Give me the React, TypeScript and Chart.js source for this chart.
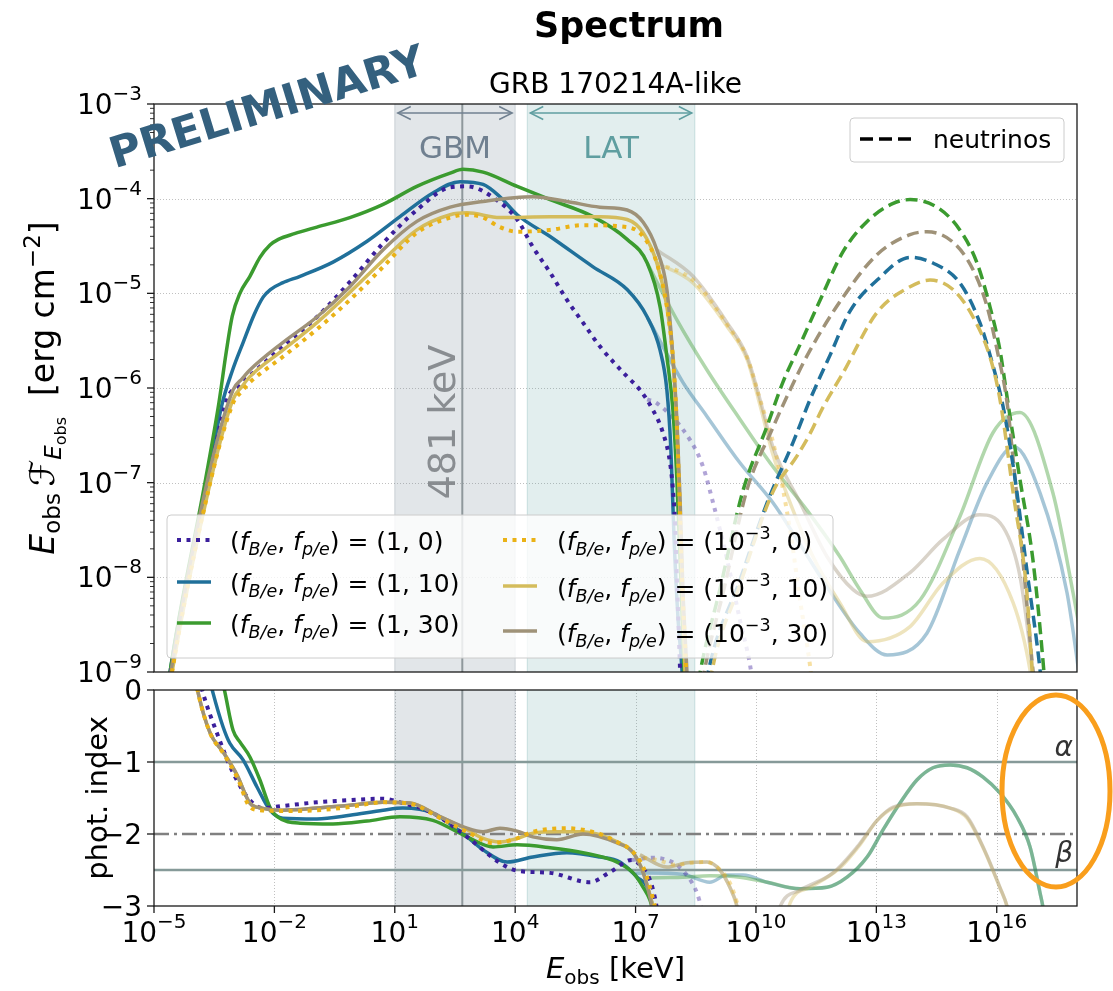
import React, { useEffect, useRef } from "react";
import { Chart, registerables } from "chart.js";
Chart.register(...registerables);

const FONT = "'DejaVu Sans', 'Noto Sans', sans-serif";

// ---------- axes / annotations ----------
const X_MIN = 1e-5;
const X_MAX = 1e18;
const X_TICK_EXPS = [-5, -2, 1, 4, 7, 10, 13, 16];
const Y_TOP_EXPS = [-9, -8, -7, -6, -5, -4, -3];
const Y_BOT_TICKS = [0, -1, -2, -3];
const GBM_BAND = [10, 1e4];
const LAT_BAND = [2e4, 3e8];
const PEAK_KEV = 481;
const INDEX_ALPHA = -1;
const INDEX_BETA = -2.5;
const INDEX_SYNC = -2;

// legend: (f_B/e exponent, f_p/e)
const LEGEND_FB_EXP = [0, 0, 0, -3, -3, -3];
const LEGEND_FP = [0, 10, 30, 0, 10, 30];
const COLORS = ["#3b1f9c", "#20709a", "#3b9b2f", "#eab216", "#d4bc5c", "#9f9278"];
const STYLES = ["dot", "solid", "solid", "dot", "solid", "solid"];

// ---------- spectra: [log10 E/keV, log10 E F_E] ----------
const SPEC_1_0 = [[-4.75,-9.5],[-4.58,-9.0],[-3.78,-7.25],[-3.65,-7.0],[-3.18,-6.12],[-2.9,-5.98],[-2.61,-5.87],[-1.79,-5.56],[-0.94,-5.25],[-0.12,-4.88],[0.71,-4.47],[1.55,-4.12],[2.38,-3.88],[2.8,-3.87],[3.62,-4.04],[4.05,-4.22],[4.44,-4.51],[4.87,-4.78],[5.29,-5.07],[5.69,-5.31],[6.11,-5.56],[6.79,-5.88],[7.11,-6.02],[7.43,-6.23],[7.68,-6.47],[7.86,-6.79],[7.93,-7.07],[7.98,-7.39],[8.03,-8.03],[8.11,-9.0],[8.13,-9.3]];
const SPEC_1_10 = [[-4.75,-9.5],[-4.6,-9.0],[-3.68,-7.0],[-3.31,-6.18],[-3.05,-5.82],[-2.78,-5.52],[-2.5,-5.22],[-2.28,-5.04],[-2.1,-4.96],[-1.8,-4.89],[-1.36,-4.82],[-0.54,-4.67],[0.31,-4.45],[1.13,-4.19],[1.95,-3.94],[2.63,-3.82],[3.2,-3.85],[3.62,-3.98],[4.05,-4.17],[4.87,-4.4],[5.94,-4.72],[6.79,-4.96],[7.29,-5.25],[7.61,-5.6],[7.78,-6.02],[7.88,-6.65],[7.96,-7.6],[8.06,-8.45],[8.16,-9.0],[8.21,-9.5]];
const SPEC_1_30 = [[-4.75,-9.5],[-4.6,-9.0],[-3.73,-7.0],[-3.38,-6.15],[-3.2,-5.62],[-3.05,-5.24],[-2.86,-5.0],[-2.61,-4.82],[-2.36,-4.62],[-2.11,-4.49],[-1.9,-4.43],[-1.5,-4.37],[-0.94,-4.3],[-0.12,-4.2],[0.71,-4.06],[1.55,-3.87],[2.38,-3.73],[2.7,-3.69],[3.2,-3.72],[4.05,-3.87],[4.87,-4.01],[5.94,-4.19],[6.79,-4.43],[7.29,-4.68],[7.61,-5.14],[7.78,-5.67],[7.93,-6.23],[8.03,-6.97],[8.13,-8.03],[8.21,-9.0],[8.26,-9.5]];
const SPEC_M3_0 = [[-4.72,-9.5],[-4.55,-9.0],[-3.6,-7.0],[-3.03,-6.16],[-2.8,-6.03],[-2.61,-5.94],[-1.79,-5.67],[-0.94,-5.38],[-0.12,-5.07],[0.71,-4.72],[1.55,-4.36],[2.38,-4.2],[2.8,-4.17],[3.2,-4.2],[3.62,-4.3],[4.05,-4.35],[4.87,-4.33],[5.69,-4.28],[6.79,-4.3],[7.19,-4.4],[7.53,-4.68],[7.78,-5.14],[7.93,-5.67],[8.01,-6.23],[8.08,-6.97],[8.16,-8.03],[8.26,-9.0],[8.28,-9.3]];
const SPEC_M3_10 = [[-4.72,-9.5],[-4.55,-9.0],[-3.6,-7.0],[-3.03,-6.12],[-2.8,-5.98],[-2.61,-5.88],[-1.79,-5.6],[-0.94,-5.31],[-0.12,-4.99],[0.71,-4.65],[1.55,-4.33],[2.38,-4.17],[2.8,-4.15],[3.62,-4.2],[4.87,-4.19],[6.11,-4.19],[6.79,-4.22],[7.19,-4.36],[7.53,-4.68],[7.78,-5.14],[7.93,-5.67],[8.01,-6.23],[8.08,-6.97],[8.16,-8.03],[8.23,-9.0],[8.26,-9.3]];
const SPEC_M3_30 = [[-4.75,-9.5],[-4.58,-9.0],[-3.68,-7.0],[-3.03,-6.02],[-2.8,-5.9],[-2.61,-5.81],[-1.79,-5.52],[-0.94,-5.25],[-0.12,-4.93],[0.71,-4.54],[1.55,-4.24],[2.38,-4.09],[3.2,-4.03],[4.44,-3.98],[5.29,-4.03],[6.11,-4.09],[6.79,-4.12],[7.19,-4.25],[7.53,-4.54],[7.78,-4.96],[7.93,-5.67],[8.03,-6.34],[8.11,-7.18],[8.18,-8.13],[8.28,-9.0],[8.31,-9.3]];

// high-energy (faded) parts of the spectra
const HE_1_0 = [[7.29,-6.12],[7.53,-6.16],[8.36,-6.55],[8.68,-6.83],[8.93,-7.21],[9.28,-7.81],[9.6,-8.45],[9.85,-8.92],[9.98,-9.3]];
const HE_1_10 = [[7.29,-5.25],[7.73,-5.6],[8.18,-5.94],[8.78,-6.3],[9.6,-6.79],[10.42,-7.21],[10.92,-7.53],[11.77,-8.1],[12.59,-8.59],[13.27,-8.82],[14.26,-8.59],[15.08,-7.71],[15.76,-7.0],[16.43,-6.62],[17.08,-7.11],[17.75,-8.16],[17.98,-8.8],[18.2,-9.5]];
const HE_1_30 = [[7.29,-4.68],[8.03,-5.28],[8.78,-5.81],[9.6,-6.33],[10.42,-6.83],[11.27,-7.29],[12.09,-7.78],[12.59,-8.13],[13.17,-8.43],[14.09,-8.24],[15.08,-7.36],[15.91,-6.47],[16.58,-6.26],[17.4,-7.11],[17.9,-8.16],[18.2,-8.87]];
const HE_M3_0 = [[7.53,-4.68],[8.43,-4.86],[9.28,-5.33],[9.78,-5.68],[10.1,-6.12],[10.47,-6.65],[10.85,-7.5],[11.1,-8.24],[11.35,-8.94],[11.45,-9.3]];
const HE_M3_10 = [[7.53,-4.68],[8.43,-4.89],[9.28,-5.35],[9.78,-5.7],[10.1,-6.18],[10.42,-6.7],[10.85,-7.21],[11.42,-7.78],[12.09,-8.27],[12.77,-8.68],[13.84,-8.52],[14.66,-8.06],[15.58,-7.8],[16.41,-8.27],[16.83,-8.98],[16.93,-9.3]];
const HE_M3_30 = [[7.53,-4.54],[8.43,-4.82],[9.28,-5.31],[9.78,-5.67],[10.1,-6.12],[10.42,-6.62],[11.1,-7.21],[11.77,-7.78],[12.42,-8.13],[12.77,-8.2],[13.84,-7.95],[14.66,-7.6],[15.58,-7.34],[16.16,-7.47],[16.58,-7.99],[16.9,-8.98],[17.0,-9.3]];

// neutrino spectra
const NU_1_10 = [[8.7,-9.3],[8.81,-9.0],[9.6,-8.03],[10.28,-7.21],[10.92,-6.58],[11.35,-6.12],[11.85,-5.65],[12.34,-5.19],[13.02,-4.86],[13.84,-4.62],[14.41,-4.68],[15.08,-4.89],[15.58,-5.31],[15.91,-5.77],[16.16,-6.2],[16.46,-6.97],[16.75,-7.92],[17.08,-8.98],[17.15,-9.3]];
const NU_1_30 = [[8.5,-9.3],[8.61,-9.0],[9.1,-8.13],[9.68,-7.08],[10.28,-6.4],[10.67,-5.94],[11.1,-5.54],[11.6,-5.07],[12.17,-4.56],[12.77,-4.24],[13.42,-4.05],[13.84,-4.01],[14.51,-4.09],[15.08,-4.33],[15.51,-4.68],[15.83,-5.14],[16.08,-5.6],[16.28,-6.16],[16.58,-6.97],[16.9,-7.81],[17.15,-8.87],[17.23,-9.3]];
const NU_M3_10 = [[8.8,-9.3],[8.9,-9.0],[9.6,-8.08],[10.42,-7.1],[11.02,-6.72],[11.35,-6.48],[11.65,-6.22],[12.17,-5.84],[13.02,-5.2],[13.84,-4.93],[14.34,-4.86],[14.91,-4.96],[15.41,-5.25],[15.83,-5.67],[16.08,-6.12],[16.41,-7.11],[16.75,-8.16],[16.88,-8.98],[16.93,-9.3]];
const NU_M3_30 = [[8.6,-9.3],[8.71,-9.0],[9.2,-8.13],[9.78,-7.07],[10.4,-6.44],[10.85,-6.02],[11.35,-5.6],[12.17,-5.04],[13.02,-4.59],[13.84,-4.38],[14.26,-4.35],[14.91,-4.46],[15.41,-4.75],[15.76,-5.14],[16.01,-5.6],[16.26,-6.16],[16.41,-6.76],[16.65,-7.81],[16.9,-8.98],[16.98,-9.3]];

// ---------- photon index: [log10 E/keV, index] ----------
const IDX_1_0 = [[-3.98,0.42],[-3.78,-0.04],[-3.43,-0.6],[-3.03,-1.15],[-2.61,-1.53],[-2.28,-1.64],[-1.79,-1.61],[-0.94,-1.56],[-0.12,-1.53],[0.71,-1.51],[1.2,-1.57],[1.95,-1.71],[2.8,-2.04],[3.62,-2.4],[4.05,-2.51],[4.87,-2.54],[5.86,-2.67],[6.36,-2.53],[6.91,-2.36],[7.16,-2.46],[7.36,-2.64],[7.48,-2.88],[7.56,-3.13]];
const IDX_1_10 = [[-3.73,0.42],[-3.53,-0.04],[-3.28,-0.51],[-3.11,-0.74],[-2.78,-0.97],[-2.43,-1.35],[-2.11,-1.67],[-1.79,-1.78],[-0.94,-1.79],[-0.12,-1.74],[0.71,-1.67],[1.2,-1.64],[1.95,-1.71],[2.8,-2.04],[3.2,-2.22],[3.8,-2.39],[4.44,-2.32],[5.29,-2.26],[6.11,-2.32],[6.61,-2.39],[7.04,-2.6],[7.29,-2.74],[7.43,-3.01],[7.48,-3.13]];
const IDX_1_30 = [[-3.41,0.42],[-3.23,-0.04],[-3.03,-0.56],[-2.86,-0.72],[-2.61,-0.93],[-2.36,-1.25],[-2.11,-1.63],[-1.93,-1.76],[-1.36,-1.85],[-0.54,-1.86],[0.31,-1.82],[1.13,-1.76],[1.95,-1.81],[2.8,-2.04],[3.45,-2.18],[4.05,-2.15],[4.87,-2.19],[5.69,-2.26],[6.54,-2.39],[6.94,-2.54],[7.19,-2.74],[7.36,-2.92],[7.43,-3.06]];
const IDX_M3_0 = [[-4.05,0.42],[-3.9,-0.04],[-3.6,-0.6],[-3.28,-0.875],[-2.93,-1.21],[-2.61,-1.625],[-2.36,-1.67],[-1.79,-1.68],[-0.94,-1.67],[-0.12,-1.625],[0.71,-1.56],[1.38,-1.58],[2.13,-1.78],[2.8,-1.97],[3.45,-2.125],[4.05,-2.06],[4.44,-1.97],[5.29,-1.92],[6.11,-2.0],[6.54,-2.11],[6.94,-2.25],[7.19,-2.46],[7.36,-2.74],[7.43,-2.89],[7.51,-3.06]];
const IDX_M3_10 = [[-4.05,0.42],[-3.9,-0.04],[-3.6,-0.6],[-3.28,-0.86],[-2.93,-1.18],[-2.61,-1.57],[-2.31,-1.64],[-1.79,-1.67],[-0.94,-1.64],[-0.12,-1.6],[0.71,-1.56],[1.38,-1.57],[2.13,-1.76],[2.8,-1.94],[3.2,-2.06],[3.62,-2.11],[4.05,-2.06],[4.44,-1.99],[5.04,-1.97],[5.69,-1.97],[6.54,-2.11],[6.94,-2.26],[7.19,-2.53],[7.36,-2.85],[7.46,-3.06]];
const IDX_M3_30 = [[-4.05,0.42],[-3.9,-0.04],[-3.6,-0.6],[-3.28,-0.86],[-2.93,-1.18],[-2.61,-1.57],[-2.31,-1.64],[-1.79,-1.67],[-0.94,-1.64],[-0.12,-1.6],[0.71,-1.56],[1.38,-1.57],[2.13,-1.76],[2.8,-1.92],[3.2,-1.97],[3.62,-1.92],[4.05,-1.96],[4.44,-2.04],[5.04,-2.08],[5.69,-2.0],[6.54,-2.125],[6.94,-2.26],[7.19,-2.54],[7.36,-2.875],[7.43,-3.06]];

const IDX_HE_1_0 = [[6.91,-2.36],[7.43,-2.33],[7.78,-2.36],[8.03,-2.43],[8.23,-2.54],[8.41,-2.68],[8.53,-2.82],[8.66,-3.06],[8.72,-3.2]];
const IDX_HE_1_10 = [[6.95,-2.55],[7.29,-2.54],[8.18,-2.56],[8.85,-2.67],[9.28,-2.57],[9.68,-2.57],[10.28,-2.67],[11.1,-2.76],[11.77,-2.74],[12.27,-2.6],[12.77,-2.32],[13.17,-1.94],[13.59,-1.57],[14.01,-1.25],[14.41,-1.08],[14.84,-1.04],[15.26,-1.08],[15.66,-1.21],[16.08,-1.43],[16.5,-1.76],[16.83,-2.18],[17.08,-2.82],[17.15,-3.01],[17.2,-3.2]];
const IDX_HE_1_30 = [[7.19,-2.62],[7.36,-2.61],[8.18,-2.6],[8.85,-2.58],[9.6,-2.6],[10.28,-2.67],[11.1,-2.76],[11.77,-2.74],[12.27,-2.6],[12.77,-2.32],[13.17,-1.94],[13.59,-1.57],[14.01,-1.25],[14.41,-1.08],[14.84,-1.04],[15.26,-1.08],[15.66,-1.21],[16.08,-1.43],[16.5,-1.76],[16.83,-2.18],[17.08,-2.82],[17.15,-3.01],[17.2,-3.2]];
const IDX_HE_M3_0 = [[7.19,-2.33],[7.53,-2.36],[8.03,-2.43],[8.36,-2.4],[8.78,-2.39],[9.03,-2.46],[9.35,-2.68],[9.53,-2.96],[9.58,-3.08]];
const IDX_HE_M3_10 = [[7.11,-2.29],[7.78,-2.46],[8.28,-2.4],[8.78,-2.39],[9.1,-2.5],[9.35,-2.74],[9.53,-3.01],[9.85,-3.75],[10.55,-3.75],[10.85,-2.96],[11.35,-2.74],[12.09,-2.47],[12.59,-2.15],[13.02,-1.81],[13.42,-1.64],[14.01,-1.58],[14.84,-1.64],[15.26,-1.78],[15.66,-2.19],[16.08,-2.75],[16.26,-3.01],[16.33,-3.2]];
const IDX_HE_M3_30 = [[7.11,-2.29],[7.78,-2.46],[8.28,-2.4],[8.78,-2.39],[9.1,-2.5],[9.35,-2.74],[9.53,-3.01],[9.73,-3.75],[10.3,-3.75],[10.6,-3.01],[11.1,-2.78],[11.92,-2.54],[12.52,-2.18],[13.02,-1.81],[13.42,-1.625],[14.01,-1.58],[14.84,-1.64],[15.26,-1.76],[15.66,-2.18],[16.08,-2.74],[16.26,-3.01],[16.33,-3.2]];

// ---------- helpers ----------
const DOT = [4, 5.5];
const DASH = [12, 6];

function hexA(hex: string, a: number) {
  const n = parseInt(hex.slice(1), 16);
  return `rgba(${(n >> 16) & 255},${(n >> 8) & 255},${n & 255},${a})`;
}

function mk(points: number[][], logY: boolean, color: string, style: string, alpha = 1) {
  return {
    data: points.map(([lx, v]) => ({ x: Math.pow(10, lx), y: logY ? Math.pow(10, v) : v })),
    borderColor: alpha < 1 ? hexA(color, alpha) : color,
    backgroundColor: "transparent",
    borderWidth: style === "dot" ? 4 : 3.5,
    borderDash: style === "dot" ? DOT : style === "dash" ? DASH : [],
    borderCapStyle: "butt",
    pointRadius: 0,
    pointHoverRadius: 0,
    fill: false,
    cubicInterpolationMode: "monotone",
    clip: 0,
  };
}

type Seg = { t: string; size: number; italic?: boolean; bold?: boolean; dy?: number };
function segFont(s: Seg) {
  return `${s.italic ? "italic " : ""}${s.bold ? "bold " : ""}${s.size}px ${FONT}`;
}
function richWidth(ctx: CanvasRenderingContext2D, segs: Seg[]) {
  let w = 0;
  for (const s of segs) {
    ctx.font = segFont(s);
    w += ctx.measureText(s.t).width;
  }
  return w;
}
function drawRich(ctx: CanvasRenderingContext2D, x: number, y: number, segs: Seg[], align: string, color: string) {
  const w = richWidth(ctx, segs);
  let cx = align === "left" ? x : align === "center" ? x - w / 2 : x - w;
  ctx.textAlign = "left";
  ctx.textBaseline = "alphabetic";
  ctx.fillStyle = color;
  for (const s of segs) {
    ctx.font = segFont(s);
    ctx.fillText(s.t, cx, y + (s.dy || 0));
    cx += ctx.measureText(s.t).width;
  }
}
function powSegs(exp: number, size: number, sup: number, dy: number): Seg[] {
  return [{ t: "10", size }, { t: exp < 0 ? "\u2212" + Math.abs(exp) : String(exp), size: sup, dy }];
}
function hline(ctx: CanvasRenderingContext2D, x0: number, x1: number, y: number) {
  ctx.beginPath(); ctx.moveTo(x0, y); ctx.lineTo(x1, y); ctx.stroke();
}
function vline(ctx: CanvasRenderingContext2D, x: number, y0: number, y1: number) {
  ctx.beginPath(); ctx.moveTo(x, y0); ctx.lineTo(x, y1); ctx.stroke();
}
function legendSegs(fbExp: number, fp: number): Seg[] {
  const S = 25, s = 17.5;
  const segs: Seg[] = [
    { t: "(", size: S }, { t: "f", size: S, italic: true }, { t: "B/e", size: s, italic: true, dy: 5 },
    { t: ", ", size: S }, { t: "f", size: S, italic: true }, { t: "p/e", size: s, italic: true, dy: 5 },
    { t: ") = (", size: S },
  ];
  if (fbExp === 0) segs.push({ t: "1", size: S });
  else { segs.push({ t: "10", size: S }); segs.push({ t: "\u2212" + Math.abs(fbExp), size: s, dy: -11 }); }
  segs.push({ t: ", " + fp + ")", size: S });
  return segs;
}
function drawBands(ctx: CanvasRenderingContext2D, x: any, a: any) {
  const bands = [
    { r: GBM_BAND, fill: "rgba(112,128,144,0.2)", edge: "rgba(112,128,144,0.28)" },
    { r: LAT_BAND, fill: "rgba(95,158,160,0.18)", edge: "rgba(95,158,160,0.28)" },
  ];
  for (const b of bands) {
    const x0 = x.getPixelForValue(b.r[0]);
    const x1 = x.getPixelForValue(b.r[1]);
    ctx.fillStyle = b.fill;
    ctx.fillRect(x0, a.top, x1 - x0, a.bottom - a.top);
    ctx.strokeStyle = b.edge; ctx.lineWidth = 1;
    vline(ctx, x0, a.top, a.bottom); vline(ctx, x1, a.top, a.bottom);
  }
  ctx.strokeStyle = "rgba(115,125,130,0.75)"; ctx.lineWidth = 2;
  vline(ctx, x.getPixelForValue(PEAK_KEV), a.top, a.bottom);
}
function arrow(ctx: CanvasRenderingContext2D, x0: number, x1: number, y: number, color: string) {
  ctx.strokeStyle = color; ctx.lineWidth = 1.5;
  hline(ctx, x0, x1, y);
  ctx.beginPath();
  ctx.moveTo(x0 + 13, y - 6.5); ctx.lineTo(x0, y); ctx.lineTo(x0 + 13, y + 6.5);
  ctx.moveTo(x1 - 13, y - 6.5); ctx.lineTo(x1, y); ctx.lineTo(x1 - 13, y + 6.5);
  ctx.stroke();
}
function roundBox(ctx: CanvasRenderingContext2D, x0: number, y0: number, x1: number, y1: number) {
  const r = 4;
  ctx.beginPath();
  ctx.moveTo(x0 + r, y0); ctx.lineTo(x1 - r, y0); ctx.quadraticCurveTo(x1, y0, x1, y0 + r);
  ctx.lineTo(x1, y1 - r); ctx.quadraticCurveTo(x1, y1, x1 - r, y1);
  ctx.lineTo(x0 + r, y1); ctx.quadraticCurveTo(x0, y1, x0, y1 - r);
  ctx.lineTo(x0, y0 + r); ctx.quadraticCurveTo(x0, y0, x0 + r, y0);
  ctx.closePath();
  ctx.fillStyle = "rgba(255,255,255,0.8)"; ctx.fill();
  ctx.strokeStyle = "#cccccc"; ctx.lineWidth = 1; ctx.stroke();
}

// ---------- top panel plugin ----------
const topPlugin = {
  id: "topDeco",
  beforeDatasetsDraw(chart: any) {
    const { ctx, chartArea: a, scales } = chart;
    const x = scales.x, y = scales.y;
    ctx.save();
    ctx.strokeStyle = "#b0b0b0"; ctx.lineWidth = 0.8; ctx.setLineDash([1, 2]);
    for (const e of Y_TOP_EXPS) {
      if (e === -9 || e === -3) continue;
      hline(ctx, a.left, a.right, Math.round(y.getPixelForValue(Math.pow(10, e))) + 0.5);
    }
    ctx.setLineDash([]);
    drawBands(ctx, x, a);
    ctx.restore();
  },
  afterDraw(chart: any) {
    const { ctx, chartArea: a, scales } = chart;
    const x = scales.x, y = scales.y;
    ctx.save();
    // band labels & arrows
    const g0 = x.getPixelForValue(GBM_BAND[0]), g1 = x.getPixelForValue(GBM_BAND[1]);
    const l0 = x.getPixelForValue(LAT_BAND[0]), l1 = x.getPixelForValue(LAT_BAND[1]);
    arrow(ctx, g0 + 3, g1 - 3, a.top + 9, "#708090");
    arrow(ctx, l0 + 3, l1 - 3, a.top + 9, "#5f9ea0");
    ctx.font = `31px ${FONT}`; ctx.textAlign = "center"; ctx.textBaseline = "alphabetic";
    ctx.fillStyle = "#708090"; ctx.fillText("GBM", (g0 + g1) / 2, a.top + 54);
    ctx.fillStyle = "#5f9ea0"; ctx.fillText("LAT", (l0 + l1) / 2, a.top + 54);
    // 481 keV label
    const px = x.getPixelForValue(PEAK_KEV);
    ctx.save();
    ctx.translate(px - 7, 422); ctx.rotate(-Math.PI / 2);
    ctx.font = `38px ${FONT}`; ctx.fillStyle = "rgba(128,132,136,0.9)"; ctx.textAlign = "center";
    ctx.fillText(`${PEAK_KEV} keV`, 0, 0);
    ctx.restore();
    // frame
    ctx.strokeStyle = "#1a1a1a"; ctx.lineWidth = 1.3;
    ctx.strokeRect(a.left, a.top, a.right - a.left, a.bottom - a.top);
    // y ticks
    for (let e = -9; e <= -3; e++) {
      for (let k = 1; k <= 9; k++) {
        if (e === -3 && k > 1) break;
        const py = y.getPixelForValue(k * Math.pow(10, e));
        ctx.lineWidth = k === 1 ? 1.3 : 0.9;
        hline(ctx, a.left - (k === 1 ? 7 : 4), a.left, py);
      }
    }
    for (const e of Y_TOP_EXPS) {
      drawRich(ctx, a.left - 12, y.getPixelForValue(Math.pow(10, e)) + 10, powSegs(e, 28, 20, -14), "right", "#000");
    }
    // y-axis title
    ctx.save();
    ctx.translate(54, (a.top + a.bottom) / 2); ctx.rotate(-Math.PI / 2);
    drawRich(ctx, 0, 0, [
      { t: "E", size: 33, italic: true }, { t: "obs", size: 23, dy: 6 }, { t: "\u2009", size: 33 },
      { t: "\u2131", size: 34, italic: true }, { t: "E", size: 23, italic: true, dy: 7 }, { t: "obs", size: 16, dy: 12 },
      { t: "  [erg cm", size: 33 }, { t: "\u22122", size: 23, dy: -14 }, { t: "]", size: 33 },
    ], "center", "#000");
    ctx.restore();
    // main legend
    roundBox(ctx, 167, 515, 833, 658);
    const sampleY = [540, 582, 623, 540, 586, 631];
    const baseY = [550, 592, 633, 550, 597, 642];
    for (let i = 0; i < 6; i++) {
      const col = i < 3 ? 0 : 1;
      const sx0 = col === 0 ? 177 : 503, sx1 = sx0 + 34, tx = col === 0 ? 230 : 557;
      ctx.strokeStyle = COLORS[i];
      ctx.lineWidth = STYLES[i] === "dot" ? 4 : 3.5;
      ctx.setLineDash(STYLES[i] === "dot" ? DOT : []);
      hline(ctx, sx0, sx1, sampleY[i]);
      ctx.setLineDash([]);
      drawRich(ctx, tx, baseY[i], legendSegs(LEGEND_FB_EXP[i], LEGEND_FP[i]), "left", "#000");
    }
    // neutrino legend
    roundBox(ctx, 850, 118, 1064, 162);
    ctx.strokeStyle = "#000"; ctx.lineWidth = 3.5; ctx.setLineDash([13, 6]);
    hline(ctx, 860, 912, 139);
    ctx.setLineDash([]);
    ctx.font = `25px ${FONT}`; ctx.fillStyle = "#000"; ctx.textAlign = "left";
    ctx.fillText("neutrinos", 933, 148);
    // titles
    ctx.textAlign = "center";
    ctx.font = `bold 35px ${FONT}`; ctx.fillText("Spectrum", 629, 37);
    ctx.font = `28px ${FONT}`; ctx.fillText("GRB 170214A-like", (a.left + a.right) / 2, 93);
    // watermark
    ctx.save();
    ctx.translate(268, 110); ctx.rotate(-17 * Math.PI / 180);
    ctx.font = `bold 43px ${FONT}`; ctx.fillStyle = "#34607e"; ctx.textBaseline = "middle";
    ctx.fillText("PRELIMINARY", 0, 0);
    ctx.restore();
    ctx.restore();
  },
};

// ---------- bottom panel plugin ----------
const botPlugin = {
  id: "botDeco",
  beforeDatasetsDraw(chart: any) {
    const { ctx, chartArea: a, scales } = chart;
    const x = scales.x, y = scales.y;
    ctx.save();
    ctx.strokeStyle = "#b0b0b0"; ctx.lineWidth = 0.8; ctx.setLineDash([1, 2]);
    for (const e of X_TICK_EXPS) {
      if (e === -5) continue;
      vline(ctx, Math.round(x.getPixelForValue(Math.pow(10, e))) + 0.5, a.top, a.bottom);
    }
    ctx.setLineDash([]);
    drawBands(ctx, x, a);
    ctx.strokeStyle = "#869a99"; ctx.lineWidth = 2.5;
    hline(ctx, a.left, a.right, y.getPixelForValue(INDEX_ALPHA));
    hline(ctx, a.left, a.right, y.getPixelForValue(INDEX_BETA));
    ctx.strokeStyle = "#808080"; ctx.setLineDash([15, 5, 3, 5]);
    hline(ctx, a.left, a.right, y.getPixelForValue(INDEX_SYNC));
    ctx.setLineDash([]);
    ctx.restore();
  },
  afterDraw(chart: any) {
    const { ctx, chartArea: a, scales } = chart;
    const x = scales.x, y = scales.y;
    ctx.save();
    ctx.strokeStyle = "#1a1a1a"; ctx.lineWidth = 1.3;
    ctx.strokeRect(a.left, a.top, a.right - a.left, a.bottom - a.top);
    for (const v of Y_BOT_TICKS) {
      const py = y.getPixelForValue(v);
      hline(ctx, a.left - 7, a.left, py);
      ctx.font = `28px ${FONT}`; ctx.fillStyle = "#000"; ctx.textAlign = "right"; ctx.textBaseline = "alphabetic";
      ctx.fillText(v < 0 ? "\u2212" + Math.abs(v) : String(v), a.left - 12, py + 10);
    }
    for (const e of X_TICK_EXPS) {
      const px = x.getPixelForValue(Math.pow(10, e));
      vline(ctx, px, a.bottom, a.bottom + 7);
      drawRich(ctx, px, a.bottom + 36, powSegs(e, 28, 20, -14), "center", "#000");
    }
    // alpha / beta labels
    ctx.font = `italic 28px ${FONT}`; ctx.fillStyle = "#333"; ctx.textAlign = "right";
    ctx.fillText("\u03b1", a.right - 4, y.getPixelForValue(INDEX_ALPHA) - 6);
    ctx.fillText("\u03b2", a.right - 4, y.getPixelForValue(INDEX_BETA) - 8);
    // orange ellipse
    ctx.strokeStyle = "#f99e1c"; ctx.lineWidth = 5;
    ctx.beginPath(); ctx.ellipse(a.right - 21, 791 - 676, 54, 96, 0, 0, Math.PI * 2); ctx.stroke();
    // axis titles
    drawRich(ctx, (a.left + a.right) / 2, a.bottom + 72, [
      { t: "E", size: 29, italic: true }, { t: "obs", size: 20, dy: 6 }, { t: " [keV]", size: 29 },
    ], "center", "#000");
    ctx.save();
    ctx.translate(107, (a.top + a.bottom) / 2); ctx.rotate(-Math.PI / 2);
    ctx.font = `29px ${FONT}`; ctx.fillStyle = "#000"; ctx.textAlign = "center";
    ctx.fillText("phot. index", 0, 0);
    ctx.restore();
    ctx.restore();
  },
};

function baseOptions(padding: any) {
  return {
    responsive: false,
    animation: false,
    events: [],
    layout: { padding },
    plugins: { legend: { display: false }, tooltip: { enabled: false }, title: { display: false } },
  };
}

export default function App() {
  const topRef = useRef<HTMLCanvasElement>(null);
  const botRef = useRef<HTMLCanvasElement>(null);

  useEffect(() => {
    const specMain = [SPEC_1_0, SPEC_1_10, SPEC_1_30, SPEC_M3_0, SPEC_M3_10, SPEC_M3_30];
    const specHE = [HE_1_0, HE_1_10, HE_1_30, HE_M3_0, HE_M3_10, HE_M3_30];
    const idxMain = [IDX_1_0, IDX_1_10, IDX_1_30, IDX_M3_0, IDX_M3_10, IDX_M3_30];
    const idxHE = [IDX_HE_1_0, IDX_HE_1_10, IDX_HE_1_30, IDX_HE_M3_0, IDX_HE_M3_10, IDX_HE_M3_30];
    const drawOrder = [3, 5, 4, 0, 2, 1]; // first = drawn on top

    const topSets: any[] = [];
    drawOrder.forEach((i) => topSets.push(mk(specMain[i], true, COLORS[i], STYLES[i])));
    topSets.push(mk(NU_M3_10, true, COLORS[4], "dash"));
    topSets.push(mk(NU_1_10, true, COLORS[1], "dash"));
    topSets.push(mk(NU_M3_30, true, COLORS[5], "dash"));
    topSets.push(mk(NU_1_30, true, COLORS[2], "dash"));
    drawOrder.forEach((i) => topSets.push(mk(specHE[i], true, COLORS[i], STYLES[i], 0.4)));

    const botSets: any[] = [];
    drawOrder.forEach((i) => botSets.push(mk(idxMain[i], false, COLORS[i], STYLES[i])));
    drawOrder.forEach((i) => botSets.push(mk(idxHE[i], false, COLORS[i], STYLES[i], 0.4)));

    const top = new Chart(topRef.current as HTMLCanvasElement, {
      type: "line",
      data: { datasets: topSets },
      options: {
        ...baseOptions({ top: 104, right: 36, bottom: 18, left: 0 }),
        scales: {
          x: { type: "logarithmic", min: X_MIN, max: X_MAX, display: false },
          y: {
            type: "logarithmic", min: 1e-9, max: 1e-3,
            grid: { display: false }, ticks: { display: false }, border: { display: false },
            afterFit: (s: any) => { s.width = 154; },
          },
        },
      } as any,
      plugins: [topPlugin],
    });

    const bot = new Chart(botRef.current as HTMLCanvasElement, {
      type: "line",
      data: { datasets: botSets },
      options: {
        ...baseOptions({ top: 14, right: 36, bottom: 0, left: 0 }),
        scales: {
          x: {
            type: "logarithmic", min: X_MIN, max: X_MAX,
            grid: { display: false }, ticks: { display: false }, border: { display: false },
            afterFit: (s: any) => { s.height = 85; },
          },
          y: {
            type: "linear", min: -3, max: 0,
            grid: { display: false }, ticks: { display: false }, border: { display: false },
            afterFit: (s: any) => { s.width = 154; },
          },
        },
      } as any,
      plugins: [botPlugin],
    });

    return () => { top.destroy(); bot.destroy(); };
  }, []);

  return (
    <div style={{ position: "fixed", left: 0, top: 0, width: 1113, height: 991, background: "#fff" }}>
      <canvas ref={topRef} width={1113} height={690} style={{ position: "absolute", left: 0, top: 0, width: 1113, height: 690 }} />
      <canvas ref={botRef} width={1113} height={315} style={{ position: "absolute", left: 0, top: 676, width: 1113, height: 315 }} />
    </div>
  );
}
